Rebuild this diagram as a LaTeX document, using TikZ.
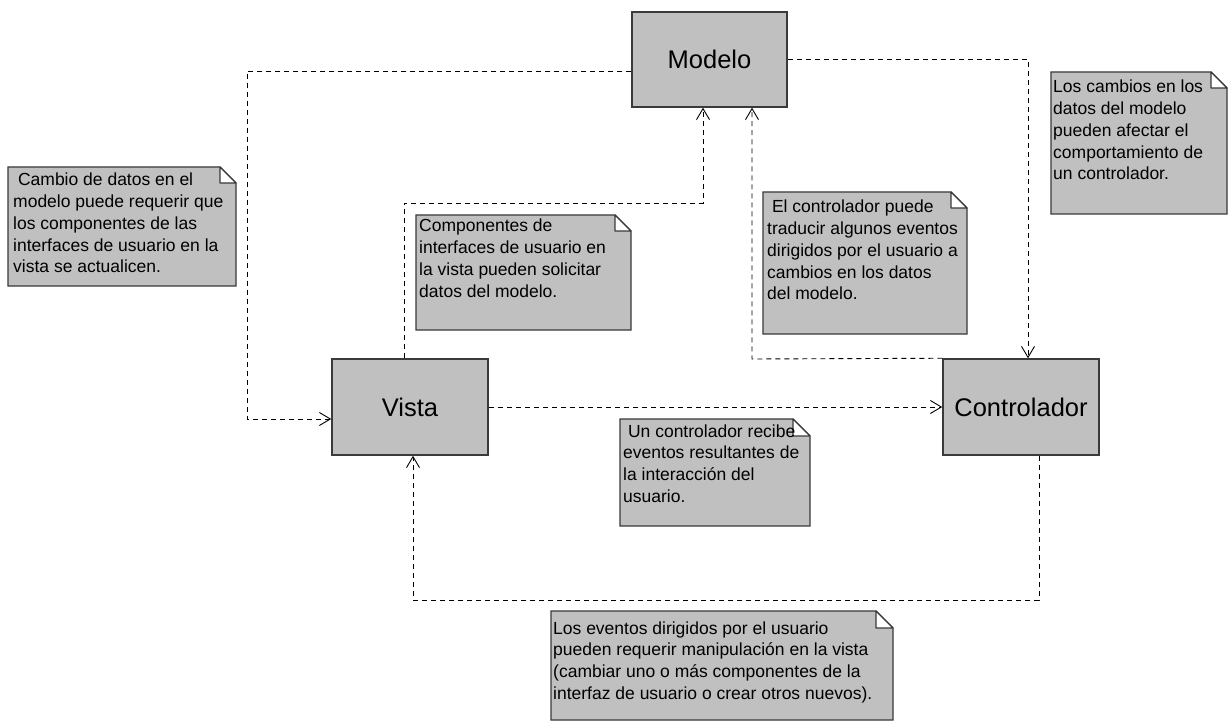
\documentclass[tikz,border=0pt]{standalone}
\usepackage{fontspec}
\setmainfont{Liberation Sans}
\usetikzlibrary{arrows.meta,calc}

\definecolor{boxfill}{HTML}{C0C0C0}
\definecolor{boxline}{HTML}{3A3A3A}

\tikzset{
  comp/.style={draw=boxline, fill=boxfill, line width=1.5pt,
    minimum width=155pt, minimum height=95pt, inner sep=0pt,
    font=\fontsize{25.5}{30}\selectfont},
  conn/.style={draw=black, line width=0.9pt, dash pattern=on 5pt off 4pt,
    -{Straight Barb[length=11pt,width=13pt,line width=0.9pt]}},
  notetext/.style={anchor=base west, inner sep=0pt,
    font=\fontsize{17.5}{21.7}\selectfont},
  noteshape/.style={draw=boxline, fill=boxfill, line width=1.3pt},
  notefold/.style={draw=boxline, fill=white, line width=1.1pt, line join=round}
}

% UML note: x1, y1, x2, y2, fold size
\newcommand{\notebox}[5]{%
  \path[noteshape] (#1,#2) -- (#3-#5,#2) -- (#3,#2+#5) -- (#3,#4) -- (#1,#4) -- cycle;
  \path[notefold] (#3-#5,#2) -- (#3-#5,#2+#5) -- (#3,#2+#5) -- cycle;
}
\newcommand{\notelines}[1]{%
  \renewcommand{\arraystretch}{1}\begin{tabular}[t]{@{}l@{}}#1\end{tabular}}

\begin{document}
\begin{tikzpicture}[x=1pt,y=-1pt]
\useasboundingbox[fill=white] (0,0) rectangle (1228,727);

% components
\node[comp] (M) at (709.5,59.5) {Modelo};
\node[comp, minimum width=156pt, minimum height=96pt] (V) at (410,407) {Vista};
\node[comp, minimum width=156pt, minimum height=96pt] (C) at (1021,407) {Controlador};

% dependencies
\draw[conn] ([yshift=-11.5pt]M.west) -| (247,419) -- ([yshift=-12pt]V.west);
\draw[conn] ([xshift=-6pt]V.north) |- (703,203) -- ([xshift=-6.5pt]M.south);
\draw[conn] (C.north west) -- (752,359) -- ([xshift=42.5pt]M.south);
\draw[conn] (M.east) -| ([xshift=7pt]C.north);
\draw[conn] (V.east) -- (C.west);
\draw[conn] ([xshift=18pt]C.south) -- (1039,600) -| ([xshift=3pt]V.south);

% notes
\notebox{8}{167}{236}{286}{16}
\node[notetext] (n1) at (13,186) {\notelines{\ Cambio de datos en el\\modelo puede requerir que\\los componentes de las\\interfaces de usuario en la\\vista se actualicen.}};

\notebox{416}{215}{631}{330}{16}
\node[notetext] (n2) at (419,232) {\notelines{Componentes de\\interfaces de usuario en\\la vista pueden solicitar\\datos del modelo.}};

\notebox{763}{192}{967}{334}{16}
\node[notetext] (n3) at (767,213) {\notelines{\ El controlador puede\\traducir algunos eventos\\dirigidos por el usuario a\\cambios en los datos\\del modelo.}};

\notebox{1051}{72}{1227}{214}{16}
\node[notetext] (n4) at (1053,93) {\notelines{Los cambios en los\\datos del modelo\\pueden afectar el\\comportamiento de\\un controlador.}};

\notebox{620}{419}{810}{526}{17}
\node[notetext] (n5) at (623,437) {\notelines{\ Un controlador recibe\\eventos resultantes de\\la interacción del\\usuario.}};

\notebox{551}{611}{893}{720}{17}
\node[notetext] (n6) at (553,634) {\notelines{Los eventos dirigidos por el usuario\\pueden requerir manipulación en la vista\\(cambiar uno o más componentes de la\\interfaz de usuario o crear otros nuevos).}};
\end{tikzpicture}
\end{document}
